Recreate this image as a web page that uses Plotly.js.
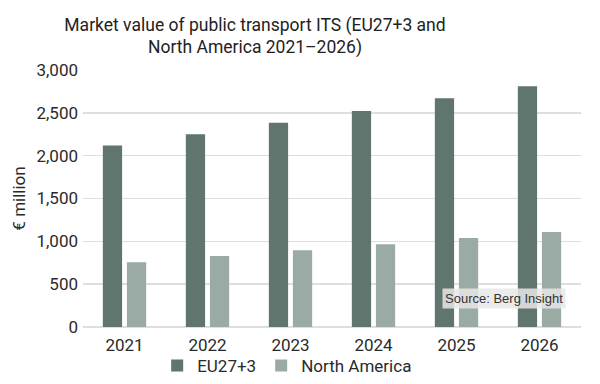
<!DOCTYPE html>
<html>
<head>
<meta charset="utf-8">
<script src="https://cdn.plot.ly/plotly-3.0.1.min.js"></script>
<style>html,body{margin:0;padding:0;background:#fff;}#chart{width:600px;height:384px;}</style>
</head>
<body>
<div id="chart"></div>
<script>
const years = ["2021", "2022", "2023", "2024", "2025", "2026"];
const euValues = [2120, 2250, 2385, 2520, 2670, 2810];
const naValues = [755, 830, 895, 965, 1040, 1110];
const yTickVals = [0, 500, 1000, 1500, 2000, 2500, 3000];
const yTickText = ["0", "500", "1,000", "1,500", "2,000", "2,500", "3,000"];

const FONT = "Roboto, 'Liberation Sans', sans-serif";

const traces = [
  {type: "bar", name: "EU27+3", x: years, y: euValues, marker: {color: "#5f756e"}, hoverinfo: "none"},
  {type: "bar", name: "North America", x: years, y: naValues, marker: {color: "#9aaaa5"}, hoverinfo: "none"}
];

const layout = {
  width: 600, height: 384,
  paper_bgcolor: "#ffffff", plot_bgcolor: "#ffffff",
  margin: {l: 83, r: 19, t: 70, b: 57, autoexpand: false},
  font: {family: FONT, color: "#2a2a2a", size: 17},
  title: {
    text: "Market value of public transport ITS (EU27+3 and<br>North America 2021–2026)",
    font: {family: FONT, size: 17.5, color: "#222"},
    x: 0.425, xanchor: "center", yref: "container", y: 0.92, yanchor: "top"
  },
  barmode: "group", bargap: 0.42, bargroupgap: 0.2,
  xaxis: {
    type: "category", showgrid: false, showline: false, zeroline: false,
    ticks: "", tickfont: {size: 17, color: "#2a2a2a"}, ticklabelstandoff: 6
  },
  yaxis: {
    range: [0, 3000], tickvals: yTickVals, ticktext: yTickText,
    showgrid: true, gridcolor: "#dedede", gridwidth: 1.5,
    zeroline: true, zerolinecolor: "#dedede", zerolinewidth: 1.5,
    showline: false, ticks: "", tickfont: {size: 17, color: "#2a2a2a"}, ticklabelstandoff: 4,
    title: {text: "€ million", font: {size: 17, color: "#2a2a2a"}, standoff: 6}
  },
  legend: {
    orientation: "h", x: 0.41, xanchor: "center", yref: "container", y: 0.0, yanchor: "bottom",
    bgcolor: "rgba(0,0,0,0)",
    font: {size: 17, color: "#2a2a2a"}, itemwidth: 30, tracegroupgap: 0
  },
  annotations: [{
    text: "Source: Berg Insight", xref: "paper", yref: "paper",
    x: 0.97, y: 0.11, xanchor: "right", yanchor: "middle", showarrow: false,
    bgcolor: "rgba(232,232,232,0.85)", font: {size: 13, color: "#333", family: "Arial, 'Liberation Sans', sans-serif"},
    borderpad: 2
  }]
};

Plotly.newPlot("chart", traces, layout, {displayModeBar: false, staticPlot: true});
</script>
</body>
</html>
